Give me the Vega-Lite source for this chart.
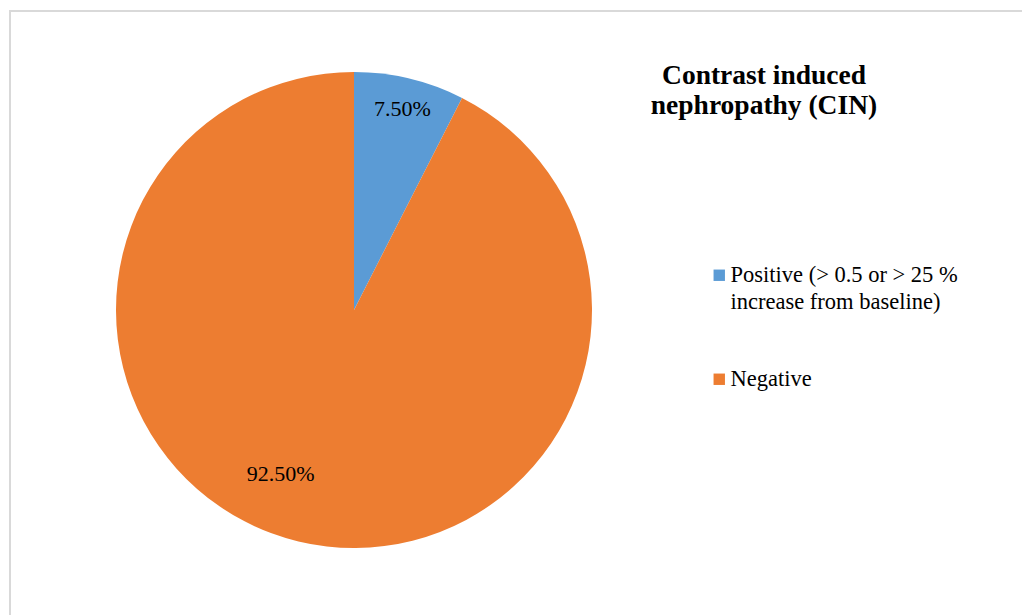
{
  "$schema": "https://vega.github.io/schema/vega-lite/v6.json",
  "width": 1022,
  "height": 615,
  "autosize": {"type": "fit", "contains": "padding"},
  "padding": {"left": 10, "top": 11, "right": -6, "bottom": -6},
  "background": "white",
  "config": {
    "view": {"stroke": "#d9d9d9", "strokeWidth": 2},
    "font": "Liberation Serif",
    "style": {
      "guide-label": {"font": "Liberation Serif", "fontSize": 22.5, "lineHeight": 27, "fill": "#000000"}
    }
  },
  "title": {
    "text": ["Contrast induced", "nephropathy (CIN)"],
    "font": "Liberation Serif",
    "fontSize": 27.5,
    "fontWeight": "bold",
    "color": "#000000",
    "anchor": "start",
    "align": "center",
    "frame": "group",
    "dx": 754,
    "dy": 112,
    "lineHeight": 30
  },
  "data": {
    "values": [
      {"category": "Positive (> 0.5 or > 25 % increase from baseline)", "value": 7.5, "label": "7.50%"},
      {"category": "Negative", "value": 92.5, "label": "92.50%"}
    ]
  },
  "encoding": {
    "theta": {"field": "value", "type": "quantitative", "stack": true},
    "order": {"field": "value", "sort": "ascending"},
    "x": {"value": 344},
    "y": {"value": 299}
  },
  "layer": [
    {
      "mark": {"type": "arc", "radius": 238, "stroke": null},
      "encoding": {
        "color": {
          "field": "category",
          "type": "nominal",
          "sort": ["Positive (> 0.5 or > 25 % increase from baseline)", "Negative"],
          "scale": {"range": ["#5B9BD5", "#ED7D31"]},
          "legend": {
            "title": null,
            "orient": "none",
            "legendX": 698,
            "legendY": 253,
            "symbolType": "square",
            "symbolSize": 130,
            "symbolStrokeWidth": 0,
            "labelFont": "serif",
            "labelFontSize": 22.5,
            "labelColor": "#000000",
            "labelLimit": 400,
            "labelOffset": 0,
            "rowPadding": 54,
            "labelExpr": "indexof(datum.label, ' increase') > 0 ? [substring(datum.label, 0, indexof(datum.label, ' increase')), substring(datum.label, indexof(datum.label, ' increase') + 1)] : datum.label"
          }
        }
      }
    },
    {
      "mark": {"type": "text", "radius": 207, "font": "Liberation Serif", "fontSize": 22, "color": "#000000"},
      "encoding": {
        "text": {"condition": {"test": "datum.value < 50", "field": "label"}, "value": ""}
      }
    },
    {
      "mark": {"type": "text", "radius": 169, "dx": -34, "font": "Liberation Serif", "fontSize": 22, "color": "#000000"},
      "encoding": {
        "text": {"condition": {"test": "datum.value >= 50", "field": "label"}, "value": ""}
      }
    }
  ]
}
